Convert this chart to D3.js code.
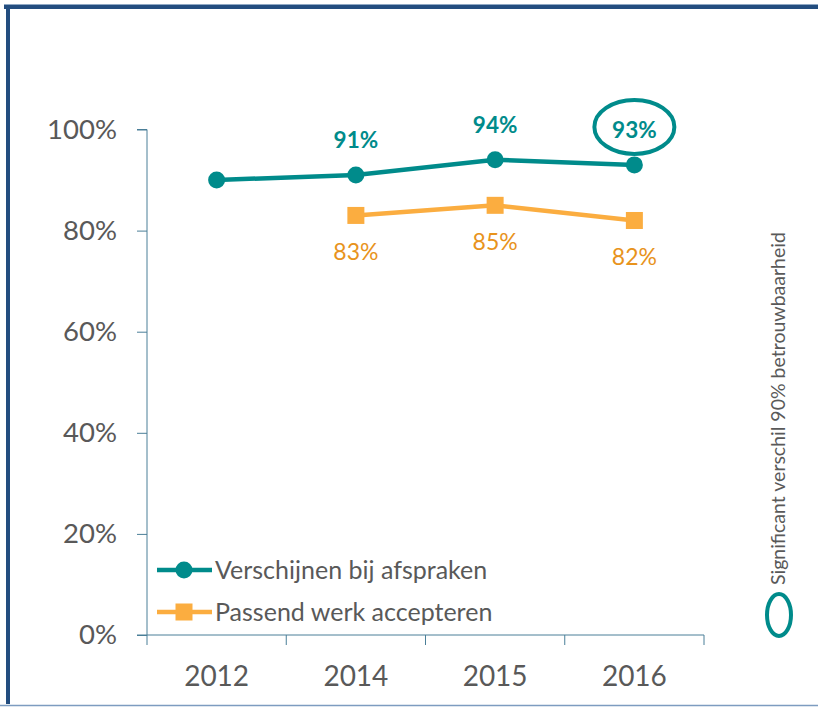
<!DOCTYPE html>
<html>
<head>
	<meta charset="utf-8">
	<title>Verschijnen bij afspraken</title>
	<script src="https://cdn.jsdelivr.net/npm/d3@7"></script>
	<style>
	body { margin: 0; background: #fff; }
	svg { font-family: Lato, "Open Sans", sans-serif; }
	</style>
</head>
<body>
<script>
	// data
	let years = ['2012', '2014', '2015', '2016'];
	let verschijnen = [90, 91, 94, 93];
	let passend = [null, 83, 85, 82];
	let yTicks = [0, 20, 40, 60, 80, 100];
	let seriesNames = ['Verschijnen bij afspraken', 'Passend werk accepteren'];
	let significant = [null, null, null, true]; // omcirkeld label

	let W = 818, H = 709;
	let teal = '#008b8b', orange = '#fbad40', orangeText = '#e8931c', grey = '#595959', axisCol = '#4a7f98';

	let svg = d3.select('body').append('svg').attr('width', W).attr('height', H);

	// kader
	svg.append('rect').attr('x', 0).attr('y', 0).attr('width', W).attr('height', H).attr('fill', '#fff');
	svg.append('line').attr('x1', 4).attr('x2', W).attr('y1', 4.5).attr('y2', 4.5).attr('stroke', '#8fa8c4').attr('stroke-width', 1);
	svg.append('line').attr('x1', 4).attr('x2', W).attr('y1', 7).attr('y2', 7).attr('stroke', '#234d7f').attr('stroke-width', 4);
	svg.append('line').attr('x1', 8).attr('x2', 8).attr('y1', 5).attr('y2', 704).attr('stroke', '#234d7f').attr('stroke-width', 4);
	svg.append('line').attr('x1', 0).attr('x2', W).attr('y1', 705.5).attr('y2', 705.5).attr('stroke', '#7d9cc0').attr('stroke-width', 1.5);

	let x = d3.scaleBand().domain(years).range([147, 704]);
	let y = d3.scaleLinear().domain([0, 100]).range([635, 129.5]);

	// y-as
	let yAxis = svg.append('g').attr('transform', 'translate(147,0)')
		.call(d3.axisLeft(y).tickValues(yTicks).tickSize(10).tickPadding(20).tickFormat(function(d) { return d + '%'; }));
	yAxis.select('.domain').attr('stroke', axisCol).attr('d', 'M-10,' + y(100) + 'H0V' + y(0) + 'H-10');
	yAxis.selectAll('line').attr('stroke', axisCol);
	yAxis.selectAll('text').attr('fill', grey).style('font-size', '27.5px').style('font-family', 'Lato');

	// x-as
	let xAxis = svg.append('g').attr('transform', 'translate(0,' + y(0) + ')')
		.call(d3.axisBottom(x).tickSize(0).tickPadding(31));
	xAxis.select('.domain').attr('stroke', axisCol).attr('d', 'M147,0H704');
	xAxis.selectAll('text').attr('fill', grey).style('font-size', '28px').style('font-family', 'Lato');
	xAxis.selectAll('line.edge').data(years.concat(['end'])).enter().append('line').attr('class', 'edge')
		.attr('x1', function(d, i) { return i < years.length ? x(d) : x.range()[1]; })
		.attr('x2', function(d, i) { return i < years.length ? x(d) : x.range()[1]; })
		.attr('y1', 0).attr('y2', 10).attr('stroke', axisCol);

	let cx = function(i) { return x(years[i]) + x.bandwidth() / 2; };

	let line = d3.line()
		.defined(function(d) { return d != null; })
		.x(function(d, i) { return cx(i); })
		.y(function(d) { return y(d); });

	// lijnen
	svg.append('path').datum(passend).attr('d', line).attr('fill', 'none').attr('stroke', orange).attr('stroke-width', 4.5);
	svg.append('path').datum(verschijnen).attr('d', line).attr('fill', 'none').attr('stroke', teal).attr('stroke-width', 4.5);

	// markers
	svg.selectAll('rect.sq').data(passend).enter().filter(function(d) { return d != null; })
		.append('rect').attr('class', 'sq')
		.attr('x', function(d, i) { return cx(passend.indexOf(d)) - 8.5; })
		.attr('y', function(d) { return y(d) - 8.5; })
		.attr('width', 17).attr('height', 17).attr('fill', orange);
	svg.selectAll('circle.dot').data(verschijnen).enter().append('circle').attr('class', 'dot')
		.attr('cx', function(d, i) { return cx(i); })
		.attr('cy', function(d) { return y(d); })
		.attr('r', 8.5).attr('fill', teal);

	// labels
	svg.selectAll('text.vlab').data(verschijnen).enter().filter(function(d, i) { return i > 0; })
		.append('text').attr('class', 'vlab')
		.attr('x', function(d) { return cx(verschijnen.indexOf(d)); })
		.attr('y', function(d) { return y(d) - 27; })
		.attr('text-anchor', 'middle').attr('fill', teal)
		.style('font-size', '22.5px').style('font-weight', 'bold')
		.text(function(d) { return d + '%'; });
	svg.selectAll('text.plab').data(passend).enter().filter(function(d) { return d != null; })
		.append('text').attr('class', 'plab')
		.attr('x', function(d) { return cx(passend.indexOf(d)); })
		.attr('y', function(d) { return y(d) + 45; })
		.attr('text-anchor', 'middle').attr('fill', orangeText)
		.style('font-size', '23px')
		.text(function(d) { return d + '%'; });

	// significant: ellips om label
	significant.forEach(function(s, i) {
		if (!s) return;
		svg.append('ellipse').attr('cx', cx(i)).attr('cy', y(verschijnen[i]) - 38)
			.attr('rx', 40).attr('ry', 27).attr('fill', 'none').attr('stroke', teal).attr('stroke-width', 4);
	});

	// legenda
	let legend = svg.append('g');
	[{ name: seriesNames[0], col: teal, shape: 'circle' }, { name: seriesNames[1], col: orange, shape: 'square' }].forEach(function(s, i) {
		let ly = 570 + i * 42;
		legend.append('line').attr('x1', 157).attr('x2', 212).attr('y1', ly).attr('y2', ly).attr('stroke', s.col).attr('stroke-width', 4.5);
		if (s.shape == 'circle') legend.append('circle').attr('cx', 184).attr('cy', ly).attr('r', 8.5).attr('fill', s.col);
		else legend.append('rect').attr('x', 175.5).attr('y', ly - 8.5).attr('width', 17).attr('height', 17).attr('fill', s.col);
		legend.append('text').attr('x', 215).attr('y', ly + 9).attr('fill', grey).style('font-size', '25px').text(s.name);
	});

	// toelichting rechts
	svg.append('text').attr('transform', 'translate(785,585) rotate(-90)').attr('fill', grey)
		.style('font-size', '19.5px').text('Significant verschil 90% betrouwbaarheid');
	svg.append('ellipse').attr('cx', 779).attr('cy', 615).attr('rx', 12).attr('ry', 21)
		.attr('fill', 'none').attr('stroke', teal).attr('stroke-width', 4);
</script>
</body>
</html>
